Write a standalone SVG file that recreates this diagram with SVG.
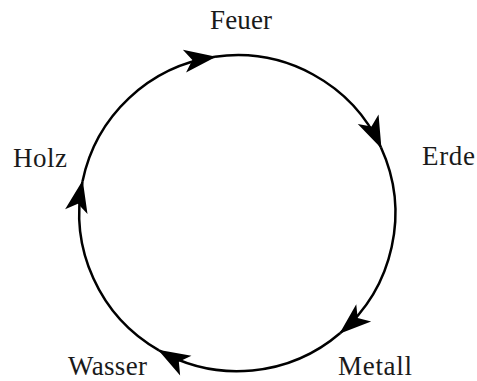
<svg xmlns="http://www.w3.org/2000/svg" width="477" height="381" viewBox="0 0 477 381">
<style>
.lbl{font-family:"Liberation Serif","Times New Roman",serif;font-size:27px;fill:#1a1a1a}
.arc{fill:none;stroke:#000;stroke-width:2.5;marker-end:url(#ah)}
</style>
<defs>
<marker id="ah" markerUnits="userSpaceOnUse" markerWidth="40" markerHeight="40" refX="0" refY="0" viewBox="-30 -15 35 30" orient="auto" overflow="visible">
<path d="M1,0 L-27,-10 L-20,0 L-27,10 Z" fill="#000"/>
</marker>
</defs>
<rect width="477" height="381" fill="#fff"/>
<g id="connectors">
<path class="arc" d="M82.5,181.4 A158,158 0 0 1 215.0,56.8"/>
<path class="arc" d="M215.0,56.8 A158,158 0 0 1 381.0,147.4"/>
<path class="arc" d="M381.0,147.4 A158,158 0 0 1 340.3,333.0"/>
<path class="arc" d="M340.3,333.0 A158,158 0 0 1 159.0,350.4"/>
<path class="arc" d="M159.0,350.4 A158,158 0 0 1 82.5,181.4"/>
</g>
<g id="feuer"><text class="lbl" x="210" y="29" textLength="62">Feuer</text></g>
<g id="erde"><text class="lbl" x="422" y="165" textLength="53">Erde</text></g>
<g id="metall"><text class="lbl" x="338" y="375" textLength="74">Metall</text></g>
<g id="wasser"><text class="lbl" x="68" y="375" textLength="79">Wasser</text></g>
<g id="holz"><text class="lbl" x="13" y="167" textLength="54">Holz</text></g>
</svg>
